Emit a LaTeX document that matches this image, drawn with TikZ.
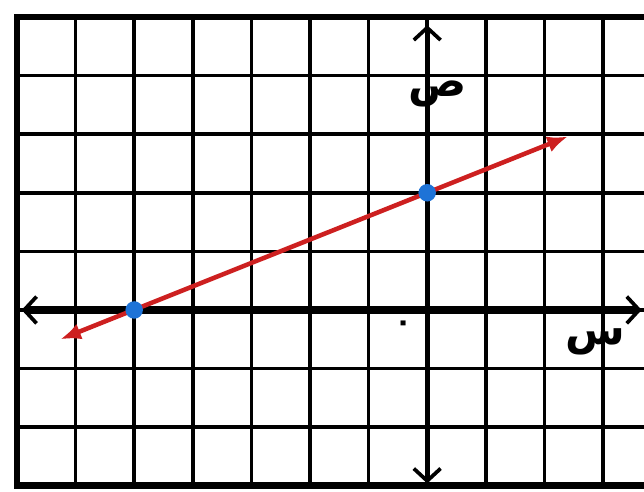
\documentclass[tikz,border=0pt]{standalone}
\usepackage{fontspec}
\usetikzlibrary{arrows.meta}
\newfontfamily\arabicfont[Script=Arabic]{DejaVu Sans}
\TeXXeTstate=1
\definecolor{linered}{RGB}{205,32,32}
\definecolor{dotblue}{RGB}{30,115,215}

\begin{document}
\begin{tikzpicture}[
    gridline/.style={line width=1.8pt},
    border/.style={line width=3.2pt},
    barb/.tip={Straight Barb[length=6pt,width=13pt,line width=1.8pt]},
    dot/.style={circle,fill=dotblue,inner sep=0pt,minimum size=8.5pt},
    lab/.style={font=\arabicfont\bfseries\fontsize{21}{24}\selectfont,inner sep=0pt}]
                \useasboundingbox (-7.29,-3.09) rectangle (3.70,5.29);
                \clip (-7.29,-3.09) rectangle (3.70,5.29);

                \def\xmin{-7}
                \def\xmax{3.8}
                \def\ymin{-3}
                \def\ymax{5}

                % squared paper
                \foreach \x in {-6,...,3}
                    \draw[gridline] (\x,\ymin) -- (\x,\ymax);
                \foreach \y in {-2,...,4}
                    \draw[gridline] (\xmin,\y) -- (\xmax,\y);
                \draw[border] (\xmax,\ymax) -- (\xmin,\ymax) -- (\xmin,\ymin) -- (\xmax,\ymin);

                % axes
                \coordinate (XL) at (-6.92,0);
                \coordinate (XR) at (3.66,0);
                \coordinate (YB) at (0,-2.96);
                \coordinate (YT) at (0,4.86);
                \draw[line width=4pt, barb-barb] (XL) -- (XR);
                \draw[line width=2.6pt, barb-barb] (YB) -- (YT);

                % the line through the two points
                \coordinate (L1) at (-6.26,-0.5);
                \coordinate (L2) at (2.4,2.96);
                \draw[linered, line width=2.2pt, {Latex[length=10pt,width=8pt]}-{Latex[length=10pt,width=8pt]}] (L1) -- (L2);
                \node[dot] (P) at (-5,0) {};
                \node[dot] (Q) at (0,2) {};

                \node[lab] (ylab) at (0.17,3.68) {\beginR ص\endR};
                \node[lab] (xlab) at (2.87,-0.55) {\beginR س\endR};
                \node[lab, font=\arabicfont\bfseries\fontsize{14}{16}\selectfont] (olab) at (-0.41,-0.27) {\beginR ٠\endR};
            \end{tikzpicture}
\end{document}
